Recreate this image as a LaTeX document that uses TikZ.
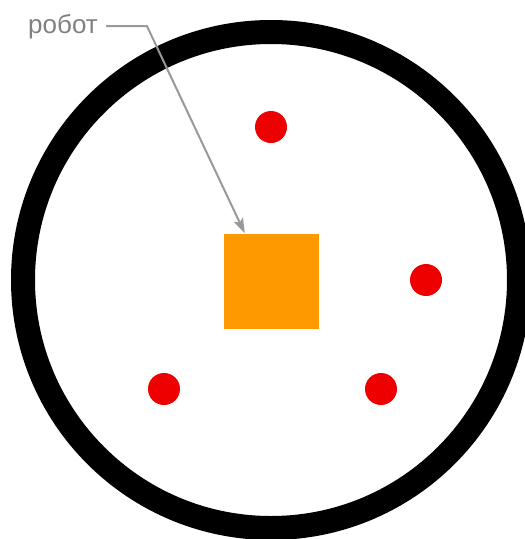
\documentclass[tikz,border=0pt]{standalone}
\usepackage{fontspec}
\setmainfont{Liberation Sans}
\usepackage{tikz}
\usetikzlibrary{calc,positioning,arrows.meta}

\definecolor{robotorange}{HTML}{FF9900}
\definecolor{markred}{HTML}{EE0000}
\definecolor{pointergray}{HTML}{999999}
\definecolor{labelgray}{HTML}{808080}

\begin{document}
\begin{tikzpicture}[
    x=1pt, y=-1pt,
    ring/.style={circle, draw=black, line width=24pt, minimum size=496pt, inner sep=0pt},
    robotbox/.style={rectangle, fill=robotorange, minimum size=95pt, inner sep=0pt},
    reddot/.style={circle, fill=markred, minimum size=32pt, inner sep=0pt},
    tag/.style={font=\fontsize{26}{28}\selectfont, text=labelgray, inner xsep=8pt, inner ysep=0pt},
    pointer/.style={-{Stealth[length=15pt, width=10pt, inset=3pt]}, line width=2pt, pointergray},
]
\useasboundingbox (0,0) rectangle (525,539);

% === FIELD ===
\node[ring] (field) at (271,280) {};

% === ROBOT ===
\node[robotbox] (robot) at (271.5,281) {};

% === MARKS ===
\node[reddot] (dot-top) at (271,127) {};
\node[reddot] (dot-right) at (426,280) {};
\node[reddot] (dot-left) at (164,389) {};
\node[reddot] (dot-bottom) at (381,389) {};

% === LABEL ===
\node[tag, anchor=base west] (label) at (20,33) {робот};

% === POINTER ===
\coordinate (bend) at (147,0);
\coordinate (tip) at ($(robot.north west)+(21,0)$);
\draw[pointer] (label.east) -- (label.east -| bend) -- (tip);

\end{tikzpicture}
\end{document}
